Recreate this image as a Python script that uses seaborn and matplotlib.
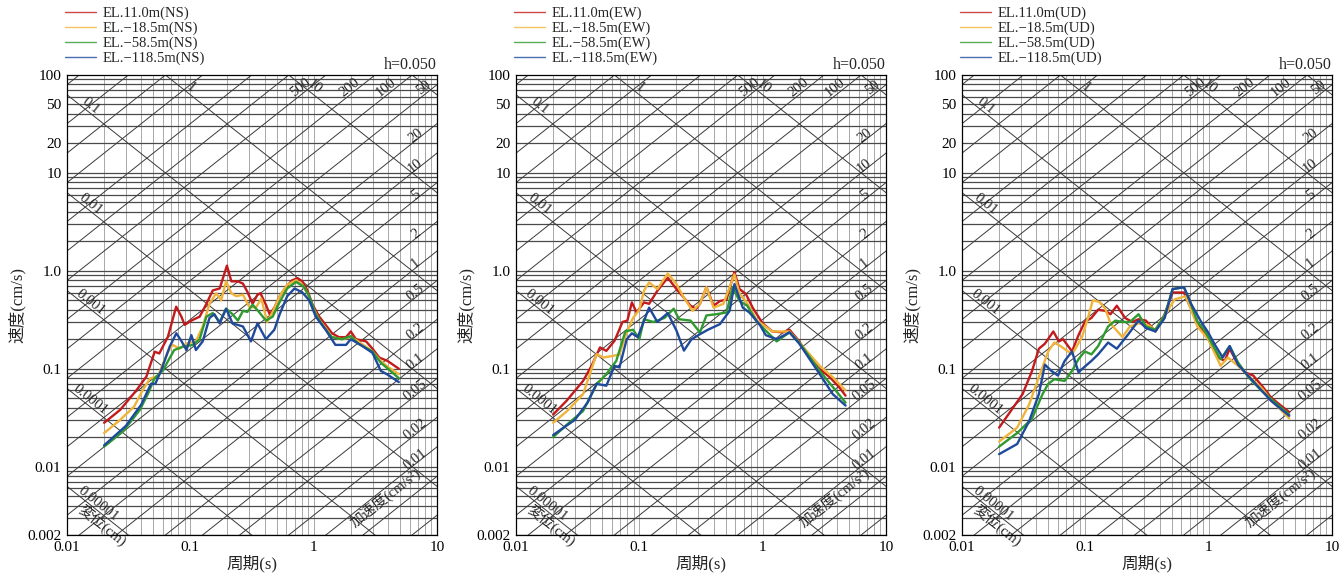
import numpy as np
import pandas as pd
import matplotlib
matplotlib.use("Agg")
import matplotlib.pyplot as plt
import seaborn as sns

sns.set_theme(style="white")
plt.rcParams['font.family'] = ['Liberation Serif', 'Noto Sans CJK JP']
plt.rcParams['axes.unicode_minus'] = False

# series names / colours
depths = ["EL.11.0m", "EL.−18.5m", "EL.−58.5m", "EL.−118.5m"]
colors = ["#c31a1c", "#f0b43a", "#2f9a2f", "#1f4a9c"]
components = ["NS", "EW", "UD"]

# ---- NS ----
ns_red_t = [0.02, 0.027, 0.0365, 0.044, 0.0514, 0.056, 0.0658, 0.0768, 0.0846, 0.09, 0.102, 0.119, 0.135, 0.152,
            0.173, 0.198, 0.215, 0.243, 0.267, 0.29, 0.32, 0.35, 0.37, 0.41, 0.44, 0.48, 0.53, 0.6, 0.67, 0.74,
            0.81, 0.89, 0.98, 1.11, 1.25, 1.41, 1.6, 1.83, 2.0, 2.2, 2.66, 3.0, 3.4, 3.97, 4.9]
ns_red_v = [0.028, 0.038, 0.060, 0.083, 0.149, 0.143, 0.212, 0.43, 0.34, 0.28, 0.31, 0.34, 0.46, 0.63,
            0.66, 1.13, 0.78, 0.78, 0.74, 0.61, 0.46, 0.57, 0.59, 0.45, 0.36, 0.42, 0.55, 0.69, 0.80, 0.84,
            0.78, 0.63, 0.45, 0.34, 0.28, 0.23, 0.21, 0.21, 0.24, 0.20, 0.19, 0.16, 0.13, 0.12, 0.10]
ns_org_t = [0.02, 0.027, 0.035, 0.041, 0.047, 0.055, 0.060, 0.066, 0.072, 0.082, 0.093, 0.111, 0.126, 0.143,
            0.162, 0.178, 0.195, 0.215, 0.236, 0.267, 0.30, 0.34, 0.376, 0.42, 0.465, 0.53, 0.61, 0.72, 0.81,
            0.89, 0.98, 1.1, 1.25, 1.41, 1.7, 2.0, 2.3, 3.0, 3.5, 3.97, 4.9]
ns_org_v = [0.022, 0.030, 0.041, 0.06, 0.079, 0.085, 0.113, 0.149, 0.175, 0.16, 0.18, 0.19, 0.27, 0.46,
            0.59, 0.50, 0.78, 0.59, 0.55, 0.57, 0.43, 0.42, 0.52, 0.30, 0.38, 0.55, 0.72, 0.80, 0.72,
            0.59, 0.43, 0.32, 0.26, 0.21, 0.20, 0.21, 0.19, 0.15, 0.12, 0.105, 0.088]
ns_grn_t = [0.02, 0.0286, 0.039, 0.0455, 0.051, 0.06, 0.066, 0.074, 0.087, 0.105, 0.119, 0.135, 0.152, 0.173,
            0.195, 0.22, 0.243, 0.267, 0.29, 0.32, 0.36, 0.41, 0.465, 0.53, 0.61, 0.72, 0.83, 0.92, 1.04,
            1.2, 1.4, 1.7, 2.0, 2.3, 3.0, 3.5, 4.0, 4.9]
ns_grn_v = [0.016, 0.023, 0.038, 0.056, 0.079, 0.096, 0.12, 0.155, 0.168, 0.175, 0.20, 0.34, 0.37, 0.30,
            0.41, 0.36, 0.31, 0.39, 0.38, 0.45, 0.38, 0.31, 0.34, 0.48, 0.66, 0.77, 0.69, 0.55, 0.36,
            0.27, 0.21, 0.20, 0.215, 0.18, 0.15, 0.115, 0.10, 0.08]
ns_blu_t = [0.02, 0.03, 0.04, 0.048, 0.052, 0.058, 0.068, 0.077, 0.085, 0.093, 0.102, 0.111, 0.126, 0.143,
            0.157, 0.173, 0.195, 0.22, 0.267, 0.31, 0.35, 0.41, 0.48, 0.53, 0.61, 0.70, 0.81, 0.92, 1.04,
            1.25, 1.5, 1.83, 2.0, 2.4, 3.0, 3.5, 3.97, 4.9]
ns_blu_v = [0.0165, 0.026, 0.043, 0.07, 0.07, 0.096, 0.168, 0.23, 0.19, 0.155, 0.22, 0.155, 0.19, 0.33,
            0.36, 0.29, 0.41, 0.29, 0.27, 0.19, 0.29, 0.20, 0.25, 0.36, 0.55, 0.66, 0.60, 0.50, 0.34,
            0.25, 0.175, 0.175, 0.20, 0.175, 0.145, 0.095, 0.087, 0.073]

# ---- EW ----
ew_red_t = [0.02, 0.0257, 0.035, 0.041, 0.048, 0.054, 0.063, 0.073, 0.080, 0.087, 0.095, 0.109, 0.12, 0.14,
            0.17, 0.20, 0.23, 0.26, 0.29, 0.31, 0.35, 0.40, 0.45, 0.51, 0.59, 0.65, 0.73, 0.83, 1.0, 1.2,
            1.45, 1.65, 1.98, 2.4, 2.9, 3.5, 4.2, 4.7]
ew_red_v = [0.034, 0.047, 0.075, 0.107, 0.165, 0.152, 0.193, 0.30, 0.31, 0.475, 0.375, 0.475, 0.46, 0.625,
            0.85, 0.65, 0.53, 0.44, 0.41, 0.46, 0.68, 0.44, 0.49, 0.51, 0.97, 0.65, 0.58, 0.42, 0.29, 0.24,
            0.235, 0.25, 0.19, 0.13, 0.099, 0.082, 0.064, 0.053]
ew_org_t = [0.02, 0.026, 0.035, 0.045, 0.051, 0.061, 0.069, 0.079, 0.089, 0.10, 0.109, 0.12, 0.14, 0.17,
            0.20, 0.23, 0.27, 0.31, 0.35, 0.40, 0.48, 0.59, 0.65, 0.73, 0.9, 1.2, 1.65, 1.98, 2.9, 3.7, 4.7]
ew_org_v = [0.028, 0.037, 0.055, 0.141, 0.13, 0.135, 0.14, 0.235, 0.33, 0.40, 0.625, 0.76, 0.65, 0.94,
            0.73, 0.53, 0.39, 0.46, 0.68, 0.42, 0.46, 0.92, 0.58, 0.49, 0.31, 0.24, 0.24, 0.185, 0.107,
            0.082, 0.06]
ew_grn_t = [0.02, 0.026, 0.035, 0.045, 0.054, 0.065, 0.077, 0.089, 0.10, 0.109, 0.13, 0.16, 0.19, 0.21,
            0.26, 0.31, 0.35, 0.42, 0.51, 0.57, 0.65, 0.75, 0.9, 1.3, 1.65, 1.98, 2.9, 4.7]
ew_grn_v = [0.020, 0.027, 0.037, 0.069, 0.088, 0.12, 0.24, 0.25, 0.20, 0.32, 0.30, 0.33, 0.41, 0.32,
            0.31, 0.235, 0.35, 0.36, 0.375, 0.68, 0.49, 0.44, 0.30, 0.19, 0.235, 0.185, 0.095, 0.045]
ew_blu_t = [0.02, 0.03, 0.038, 0.045, 0.054, 0.063, 0.069, 0.079, 0.087, 0.097, 0.12, 0.14, 0.17, 0.20,
            0.23, 0.265, 0.31, 0.36, 0.45, 0.54, 0.59, 0.69, 0.78, 0.95, 1.06, 1.3, 1.65, 1.98, 2.9, 3.7, 4.7]
ew_blu_v = [0.021, 0.030, 0.045, 0.07, 0.067, 0.107, 0.103, 0.20, 0.23, 0.21, 0.42, 0.30, 0.37, 0.245,
            0.153, 0.20, 0.225, 0.25, 0.285, 0.39, 0.73, 0.42, 0.375, 0.28, 0.22, 0.20, 0.235, 0.18, 0.088,
            0.055, 0.042]

# ---- UD ----
ud_red_t = [0.02, 0.031, 0.037, 0.042, 0.047, 0.055, 0.061, 0.066, 0.078, 0.088, 0.099, 0.112, 0.127, 0.145,
            0.16, 0.18, 0.21, 0.24, 0.27, 0.31, 0.37, 0.44, 0.51, 0.63, 0.69, 0.79, 0.93, 1.05, 1.2, 1.35,
            1.48, 1.73, 1.96, 2.3, 2.7, 3.2, 3.6, 4.5]
ud_red_v = [0.025, 0.055, 0.095, 0.16, 0.18, 0.24, 0.19, 0.20, 0.15, 0.22, 0.30, 0.33, 0.40, 0.39,
            0.36, 0.44, 0.33, 0.30, 0.32, 0.31, 0.24, 0.36, 0.60, 0.60, 0.46, 0.32, 0.225, 0.18, 0.13, 0.12,
            0.16, 0.11, 0.092, 0.085, 0.067, 0.051, 0.045, 0.036]
ud_org_t = [0.02, 0.028, 0.035, 0.042, 0.05, 0.056, 0.063, 0.078, 0.094, 0.105, 0.115, 0.13, 0.145, 0.16,
            0.20, 0.23, 0.27, 0.32, 0.37, 0.44, 0.53, 0.65, 0.70, 0.81, 0.99, 1.25, 1.43, 1.73, 2.0, 2.7,
            3.2, 4.5]
ud_org_v = [0.018, 0.025, 0.043, 0.082, 0.15, 0.185, 0.17, 0.14, 0.21, 0.33, 0.50, 0.48, 0.41, 0.29,
            0.21, 0.27, 0.29, 0.28, 0.25, 0.35, 0.51, 0.55, 0.44, 0.27, 0.20, 0.107, 0.13, 0.107, 0.09, 0.063,
            0.048, 0.031]
ud_grn_t = [0.02, 0.028, 0.037, 0.045, 0.05, 0.056, 0.068, 0.078, 0.088, 0.099, 0.112, 0.127, 0.153, 0.175,
            0.20, 0.23, 0.27, 0.31, 0.37, 0.44, 0.51, 0.63, 0.70, 0.81, 0.93, 1.05, 1.25, 1.48, 1.73, 2.1,
            2.7, 3.2, 4.5]
ud_grn_v = [0.016, 0.022, 0.031, 0.055, 0.07, 0.078, 0.075, 0.095, 0.125, 0.15, 0.14, 0.17, 0.27, 0.31,
            0.30, 0.30, 0.36, 0.27, 0.25, 0.35, 0.65, 0.68, 0.50, 0.30, 0.245, 0.185, 0.125, 0.17, 0.116,
            0.082, 0.059, 0.049, 0.034]
ud_blu_t = [0.02, 0.028, 0.035, 0.042, 0.047, 0.053, 0.06, 0.068, 0.078, 0.088, 0.099, 0.112, 0.127, 0.153,
            0.18, 0.22, 0.27, 0.31, 0.37, 0.44, 0.51, 0.63, 0.72, 0.87, 0.99, 1.11, 1.30, 1.48, 1.73, 2.4,
            3.2, 4.5]
ud_blu_v = [0.0134, 0.017, 0.029, 0.055, 0.11, 0.095, 0.085, 0.12, 0.15, 0.092, 0.105, 0.12, 0.14, 0.185,
            0.16, 0.22, 0.31, 0.26, 0.24, 0.33, 0.65, 0.68, 0.46, 0.30, 0.235, 0.18, 0.13, 0.17, 0.11, 0.07,
            0.047, 0.033]

panels = [
    [(ns_red_t, ns_red_v), (ns_org_t, ns_org_v), (ns_grn_t, ns_grn_v), (ns_blu_t, ns_blu_v)],
    [(ew_red_t, ew_red_v), (ew_org_t, ew_org_v), (ew_grn_t, ew_grn_v), (ew_blu_t, ew_blu_v)],
    [(ud_red_t, ud_red_v), (ud_org_t, ud_org_v), (ud_grn_t, ud_grn_v), (ud_blu_t, ud_blu_v)],
]

# tripartite grid values
disp_lines = [1e-5, 1e-4, 1e-3, 1e-2, 1e-1, 1, 10, 100]
acc_lines = [m * 10.0 ** e for e in range(-3, 5) for m in (1, 2, 5)]
disp_left = ["0.1", "0.01", "0.001", "0.0001", "0.00001"]
disp_top = ["1", "10"]
acc_top = ["500", "200", "100", "50"]
acc_right = ["20", "10", "5", "2", "1", "0.5", "0.2", "0.1", "0.05", "0.02", "0.01"]

yticks = [100, 50, 20, 10, 1, 0.1, 0.01, 0.002]
yticklabels = ["100", "50", "20", "10", "1.0", "0.1", "0.01", "0.002"]
xticks = [0.01, 0.1, 1, 10]
xticklabels = ["0.01", "0.1", "1", "10"]

W, H = 1343, 575
fig = plt.figure(figsize=(W / 100, H / 100), dpi=100)
lefts = [67, 516, 962]
ax_w, ax_h, ax_b = 370, 460, 40

# angle of the diagonals on screen
ang = np.degrees(np.arctan((ax_h / np.log10(100 / 0.002)) / (ax_w / 3.0)))
TWO_PI = 2 * np.pi
lab_fs = 10.5

for i, comp in enumerate(components):
    ax = fig.add_axes([lefts[i] / W, ax_b / H, ax_w / W, ax_h / H])
    ax.set_xscale('log')
    ax.set_yscale('log')

    # grid
    for dec in [0.01, 0.1, 1]:
        for k in range(1, 10):
            ax.axvline(dec * k, color='#a8a8a8', lw=0.7, zorder=1)
    for dec in [0.001, 0.01, 0.1, 1, 10]:
        for k in range(1, 10):
            v = dec * k
            if 0.002 <= v <= 100:
                ax.axhline(v, color='#4a4a4a', lw=0.9, zorder=1)
    tt = np.array([0.005, 20.0])
    for d in disp_lines:
        ax.plot(tt, TWO_PI * d / tt, color='#3a3a3a', lw=0.7, zorder=1)
    for a in acc_lines:
        ax.plot(tt, a * tt / TWO_PI, color='#3a3a3a', lw=0.7, zorder=1)

    # grid labels
    for lab in disp_left:
        d = float(lab)
        t = 0.018 if d < 5e-5 else 0.0155
        ax.text(t, TWO_PI * d / t * 1.18, lab, rotation=-ang, rotation_mode='anchor',
                ha='center', va='center', fontsize=lab_fs, zorder=2)
    for lab in disp_top:
        d = float(lab)
        t = TWO_PI * d / 62
        ax.text(t, 75, lab, rotation=-ang, rotation_mode='anchor',
                ha='center', va='center', fontsize=lab_fs, zorder=2)
    for lab in acc_top:
        a = float(lab)
        t = 62 * TWO_PI / a
        ax.text(t, 75, lab, rotation=ang, rotation_mode='anchor',
                ha='center', va='center', fontsize=lab_fs, zorder=2)
    for lab in acc_right:
        a = float(lab)
        t = 6.7
        ax.text(t, a * t / TWO_PI * 1.12, lab, rotation=ang, rotation_mode='anchor',
                ha='center', va='center', fontsize=lab_fs, zorder=2)
    ax.text(0.0195, 0.0025, "変位(cm)", rotation=-ang, rotation_mode='anchor',
            ha='center', va='center', fontsize=lab_fs, zorder=2, clip_on=False)
    ax.text(3.8, 0.0048, "加速度(cm/s²)", rotation=ang, rotation_mode='anchor',
            ha='center', va='center', fontsize=lab_fs, zorder=2)

    # response spectra
    frames = []
    for (t_vals, v_vals), dep in zip(panels[i], depths):
        frames.append(pd.DataFrame({'T': t_vals, 'V': v_vals, 'label': f"{dep}({comp})"}))
    df = pd.concat(frames, ignore_index=True)
    hue_order = [f"{dep}({comp})" for dep in depths]
    sns.lineplot(data=df, x='T', y='V', hue='label', hue_order=hue_order, palette=colors,
                 sort=False, estimator=None, lw=1.7, ax=ax, zorder=3)

    handles, labels = ax.get_legend_handles_labels()
    leg = ax.legend(handles, labels, loc='lower left', bbox_to_anchor=(-0.005, 1.022),
                    frameon=False, fontsize=10.5, handlelength=2.1, handletextpad=0.5,
                    labelspacing=0.1, borderaxespad=0, borderpad=0)
    for h in leg.get_lines():
        h.set_linewidth(1.0)
        h.set_alpha(0.8)

    ax.set_xlim(0.01, 10)
    ax.set_ylim(0.002, 100)
    ax.set_xticks(xticks, xticklabels)
    ax.set_yticks(yticks, yticklabels)
    ax.minorticks_off()
    ax.tick_params(length=0, labelsize=11, pad=4, colors='black')
    ax.set_xlabel("周期(s)", fontsize=12, labelpad=1)
    ax.set_ylabel("速度(cm/s)", fontsize=12, labelpad=1)
    ax.text(1.0, 1.004, "h=0.050", transform=ax.transAxes, ha='right', va='bottom', fontsize=11.5)
    for s in ax.spines.values():
        s.set_color('black')
        s.set_linewidth(0.9)

fig.savefig("out.png", dpi=100)
